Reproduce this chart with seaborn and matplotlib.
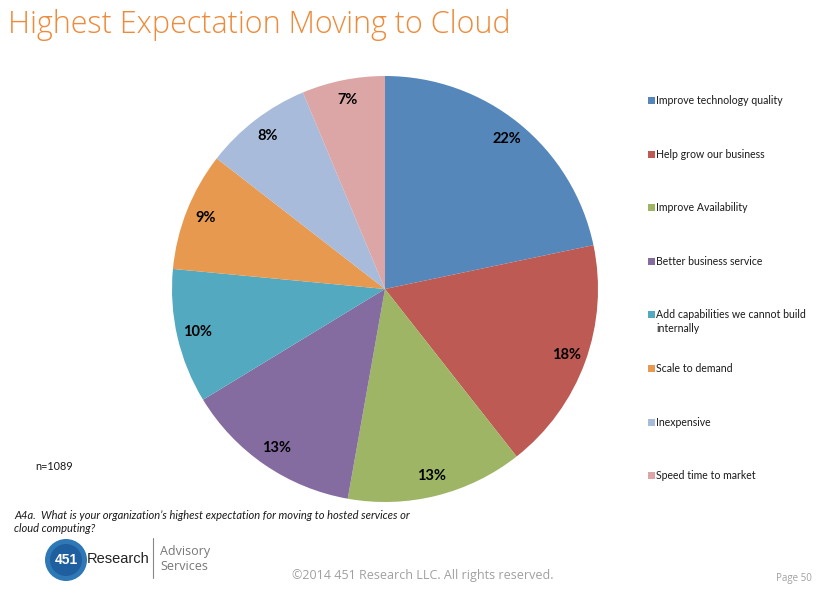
import matplotlib
matplotlib.use("Agg")
import matplotlib.pyplot as plt
from matplotlib.patches import Rectangle, Ellipse
from matplotlib.lines import Line2D
import numpy as np
import seaborn as sns

sns.set_theme(style="white")
plt.rcParams['font.family'] = ['Lato', 'DejaVu Sans']

categories = ["Improve technology quality", "Help grow our business", "Improve Availability",
              "Better business service", "Add capabilities we cannot build\ninternally",
              "Scale to demand", "Inexpensive", "Speed time to market"]
values = [21.7, 17.7, 13.4, 13.5, 10.2, 9.0, 8.2, 6.3]
pct_labels = ["22%", "18%", "13%", "13%", "10%", "9%", "8%", "7%"]
colors = ["#5587BA", "#BC5A53", "#9DB565", "#846CA0", "#52A9C0", "#E6994F", "#A8BBDA", "#DCA6A6"]

W, H = 823, 598
fig = plt.figure(figsize=(W / 100, H / 100), dpi=100)
fig.patch.set_facecolor("white")

cx, cy, r = 385, 289, 213
ax = fig.add_axes([(cx - r) / W, (H - cy - r) / H, 2 * r / W, 2 * r / H])
wedges, texts = ax.pie(values, colors=colors, startangle=90, counterclock=False,
                       radius=1.0, wedgeprops=dict(linewidth=0))
for w, lab in zip(wedges, pct_labels):
    ang = np.deg2rad((w.theta1 + w.theta2) / 2)
    ax.text(0.905 * np.cos(ang), 0.905 * np.sin(ang), lab, ha="center", va="center",
            fontsize=10.5, fontweight="bold", color="black")
ax.set_xlim(-1, 1)
ax.set_ylim(-1, 1)
ax.set_aspect("equal")
ax.axis("off")

# legend
y0, step = 100, 53.6
for i, (cat, col) in enumerate(zip(categories, colors)):
    y = y0 + step * i
    fig.patches.append(Rectangle((648 / W, 1 - (y + 4) / H), 7 / W, 7 / H,
                                 transform=fig.transFigure, facecolor=col, edgecolor="none"))
    fig.text(656 / W, 1 - (y - 5) / H, cat, ha="left", va="top", fontsize=7.6,
             color="#1a1a1a", linespacing=1.3)

# title
fig.text(8 / W, 1 - 25 / H, "Highest Expectation Moving to Cloud", fontsize=22,
         color="#EE8A3A", ha="left", va="center", family=["Open Sans", "DejaVu Sans"],
         fontweight="light")

fig.text(35 / W, 1 - 467 / H, "n=1089", fontsize=7.8, color="#1a1a1a", ha="left", va="center")
fig.text(14 / W, 1 - 522 / H,
         "A4a.  What is your organization\u2019s highest expectation for moving to hosted services or\ncloud computing?",
         fontsize=8, style="italic", color="#1a1a1a", ha="left", va="center", linespacing=1.15)
fig.text(423 / W, 1 - 576 / H, "\u00a92014 451 Research LLC. All rights reserved.", fontsize=9,
         color="#A0A0A0", ha="center", va="center", family=["Open Sans", "DejaVu Sans"])
fig.text(812 / W, 1 - 579 / H, "Page 50", fontsize=7, color="#A0A0A0", ha="right", va="center",
         family=["Open Sans", "DejaVu Sans"])

# logo
fig.patches.append(Ellipse((66 / W, 1 - 560 / H), 42 / W, 42 / H, transform=fig.transFigure,
                           facecolor="#2E78B5", edgecolor="none"))
fig.patches.append(Ellipse((66 / W, 1 - 560 / H), 32 / W, 32 / H, transform=fig.transFigure,
                           facecolor="#1F5FA0", edgecolor="none"))
fig.text(66 / W, 1 - 560 / H, "451", fontsize=10, fontweight="bold", color="white",
         ha="center", va="center", family=["Liberation Sans", "DejaVu Sans"])
fig.text(87 / W, 1 - 559 / H, "Research", fontsize=10.5, color="#222222", ha="left", va="center",
         family=["Liberation Sans", "DejaVu Sans"])
fig.add_artist(Line2D([153 / W, 153 / W], [1 - 538 / H, 1 - 578 / H], transform=fig.transFigure,
                      color="#888888", linewidth=0.8))
fig.text(160 / W, 1 - 552 / H, "Advisory", fontsize=9, color="#777777", ha="left", va="center",
         family=["Open Sans", "DejaVu Sans"])
fig.text(160 / W, 1 - 566 / H, "Services", fontsize=9, color="#777777", ha="left", va="center",
         family=["Open Sans", "DejaVu Sans"])

fig.savefig("out.png", dpi=100, facecolor="white")
